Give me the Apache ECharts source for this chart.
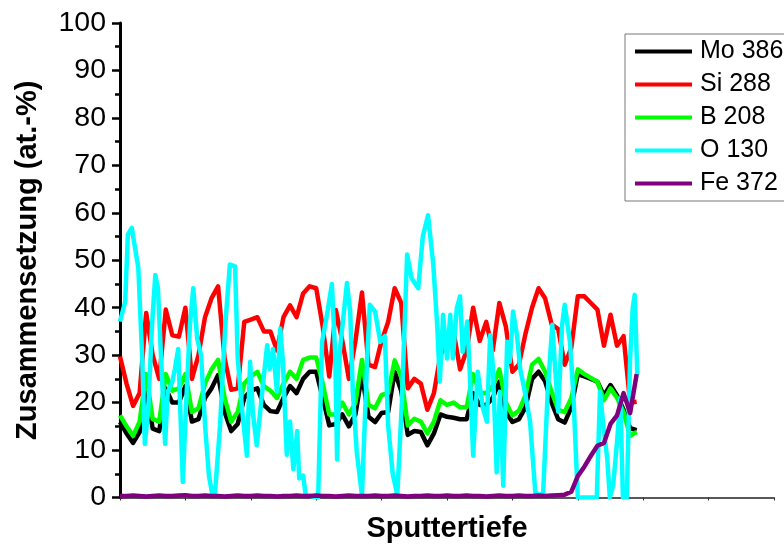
<!DOCTYPE html>
<html>
<head>
<meta charset="utf-8">
<script src="https://cdn.jsdelivr.net/npm/echarts@6/dist/echarts.min.js"></script>
<style>
  html, body { margin: 0; padding: 0; background: #fff; }
  #chart { width: 784px; height: 549px; }
</style>
</head>
<body>
<div id="chart"></div>
<script>
// Sputtertiefe (willkuerliche Einheit, Achse 0..10)
var depth = [0,0.1,0.2,0.3,0.4,0.5,0.6,0.7,0.8,0.9,
    1,1.1,1.2,1.3,1.4,1.5,1.6,1.7,1.8,1.9,
    2,2.1,2.2,2.3,2.4,2.5,2.6,2.7,2.8,2.9,
    3,3.1,3.2,3.3,3.4,3.5,3.6,3.7,3.8,3.9,
    4,4.1,4.2,4.3,4.4,4.5,4.6,4.7,4.8,4.9,
    5,5.1,5.2,5.3,5.4,5.5,5.6,5.7,5.8,5.9,
    6,6.1,6.2,6.3,6.4,6.5,6.6,6.7,6.8,6.9,
    7,7.1,7.2,7.3,7.4,7.5,7.6,7.7,7.8,7.9];

var mo386 = [15.9,13.5,11.5,13.8,23,14.5,14,23,20,20,
    23.5,16,16.5,21,23,25.8,18,14,15.5,21,
    22.5,23,19.5,18.2,18,21,23.5,22,25,26.5,
    26.5,21,15.2,15.5,17.5,15,17.5,26,17,15.9,
    17.8,18,26.5,22.5,13.2,14,13.8,11,13.5,17.5,
    17,16.8,16.5,16.5,22,19.5,19.5,21,24.4,18,
    15.9,16.5,19,25,26.5,24.5,20,16.5,15.8,19,
    26,25.5,25,24.4,21.5,23.7,21.5,18.5,14.6,14.2];

var si288 = [29.7,24,19.3,22,38.9,30,25,39.6,34.2,33.9,
    40,25,30,38,42,44.5,29.3,22.7,23,37,
    37.5,38,35,35,31,38,40.5,38,43,44.5,
    44.1,36,25.5,39.5,33,25,33,43.2,28,27.5,
    33,37,44.1,41,23,25,24,18.5,22,30,
    33,35,27,31,40,33,37,31,41,36,
    26.5,28,34.5,40,44.1,42,36.5,35.5,28,31.5,
    42.4,42.4,41,39.6,32,38.5,32,34,20,20.2];

var b208 = [17.3,15,13,16,26,16.5,16,26,22.5,23,
    26,18,18.8,24,27,29,21,16,18,24,
    25.5,26.5,23.5,22.5,21,24,26.5,25,29,29.5,
    29.5,24,17.5,17.5,20,17.5,20,29,19.5,18.8,
    21.6,22,28.9,25.5,15.2,16.6,16,13.5,16,20.5,
    19.5,20,19,19,26,22,22,23.5,27,20,
    17.3,18.3,21.5,28,29.2,26.5,22.3,18.5,18,20.9,
    27,26,25.2,24.4,20.5,23,21,18,13,13.8];

// O 130 schwankt stark, daher eigene, dichtere Tiefenpunkte
var oDepth = [0,0.08,0.12,0.18,0.23,0.28,0.34,0.38,0.43,0.49,
    0.54,0.58,0.64,0.69,0.73,0.80,0.84,0.89,0.96,1.02,
    1.07,1.12,1.18,1.24,1.30,1.36,1.41,1.45,1.53,1.61,
    1.68,1.76,1.80,1.87,1.94,1.99,2.03,2.09,2.14,2.19,
    2.25,2.29,2.34,2.40,2.45,2.49,2.55,2.60,2.65,2.71,
    2.74,2.80,2.84,3.03,3.09,3.17,3.24,3.29,3.32,3.36,
    3.47,3.52,3.56,3.62,3.70,3.78,3.82,3.90,3.98,4.05,
    4.10,4.17,4.24,4.31,4.39,4.46,4.56,4.63,4.71,4.79,
    4.85,4.89,4.94,5.00,5.05,5.09,5.15,5.20,5.24,5.31,
    5.35,5.40,5.47,5.55,5.61,5.66,5.70,5.76,5.81,5.86,
    5.92,5.96,6.01,6.07,6.12,6.19,6.27,6.35,6.42,6.47,
    6.54,6.61,6.65,6.70,6.76,6.80,6.88,6.93,7.00,7.29,
    7.34,7.39,7.45,7.49,7.54,7.60,7.65,7.69,7.75,7.80,
    7.84,7.87,7.91];

var o130 = [37.1,41.3,55.4,56.8,52.6,48.4,29.3,11.3,18.1,36.4,
    46.9,44.1,25.8,11.3,22.3,24.4,27.1,31.3,3.3,22.3,
    36.4,44.1,33.5,30,15.3,4.6,0.7,0.4,15.2,36.4,
    49.1,48.7,29.3,18.1,8.8,28.6,18.1,11,17.5,24.4,
    32.1,27.1,31.3,22.3,35.6,29,9,16,6,14,
    4,4.6,0.5,0,32.8,38.9,45,30.4,8,30.7,
    45.2,39.2,22.3,9.6,0.5,29.3,40.6,39.2,32.8,34,
    15.2,5,0.5,20,51.2,46.2,44.1,55,59.5,49.1,
    36.4,24.4,38.5,29.3,38.5,29.3,39.9,42.4,30.7,37.1,
    25.8,8.8,26.5,18.8,16,34.2,27.9,5.3,22.3,2.5,
    32.8,28.6,39.2,34.2,27.1,22.3,16,1.1,0.5,1,
    22.3,36.4,27.9,18.1,36.4,40.6,32.8,22.3,0,0,
    22.3,15.2,8.2,0,2.5,11.7,20.9,0,0,29.3,
    39.9,42.7,25.8];

var fe372 = [0.3,0.3,0.4,0.3,0.2,0.3,0.4,0.3,0.3,0.4,
    0.5,0.3,0.3,0.4,0.3,0.3,0.2,0.3,0.4,0.3,
    0.3,0.4,0.3,0.3,0.2,0.3,0.3,0.4,0.3,0.3,
    0.4,0.3,0.3,0.2,0.3,0.4,0.3,0.3,0.3,0.4,
    0.3,0.3,0.4,0.3,0.2,0.3,0.3,0.4,0.3,0.3,
    0.4,0.3,0.3,0.4,0.3,0.3,0.2,0.3,0.4,0.3,
    0.3,0.4,0.3,0.3,0.4,0.3,0.4,0.5,0.6,1.2,
    4.5,6.5,8.8,10.9,11.5,15.5,17.3,22,17.8,26];

var yTicks = [0,10,20,30,40,50,60,70,80,90,100];

function pairs(xs, vals) {
    return vals.map(function (v, i) { return [xs[i], v]; });
}

var font = 'Liberation Sans, Arial, sans-serif';
var chart = echarts.init(document.getElementById('chart'), null, { renderer: 'canvas' });

var seriesDef = [
    { name: 'Mo 386', x: depth,  data: mo386, color: '#000000' },
    { name: 'Si 288', x: depth,  data: si288, color: '#ff0000' },
    { name: 'B 208',  x: depth,  data: b208,  color: '#00ff00' },
    { name: 'O 130',  x: oDepth, data: o130,  color: '#00ffff' },
    { name: 'Fe 372', x: depth,  data: fe372, color: '#800080' }
];

chart.setOption({
    animation: false,
    backgroundColor: '#ffffff',
    grid: { left: 120, right: 10, top: 23, bottom: 51.5 },
    legend: {
        orient: 'vertical',
        left: 625,
        top: 34,
        padding: [5, 10, 5, 10],
        itemGap: 8,
        itemWidth: 57,
        itemHeight: 4,
        icon: 'rect',
        borderColor: '#777',
        borderWidth: 1,
        itemStyle: { borderWidth: 0 },
        textStyle: { fontFamily: font, fontSize: 25, color: '#000', padding: [0, 0, 0, 3] },
        data: seriesDef.map(function (s) { return s.name; })
    },
    xAxis: {
        type: 'value',
        min: 0,
        max: 10,
        interval: 1,
        name: 'Sputtertiefe',
        nameLocation: 'middle',
        nameGap: 17,
        nameTextStyle: { fontFamily: font, fontSize: 29, fontWeight: 'bold', color: '#000' },
        axisLine: { show: true, lineStyle: { color: '#222', width: 1.5 } },
        axisTick: { show: true, length: 3, lineStyle: { color: '#333', width: 1 } },
        axisLabel: { show: false },
        splitLine: { show: false }
    },
    yAxis: {
        type: 'value',
        min: yTicks[0],
        max: yTicks[yTicks.length - 1],
        interval: 10,
        name: 'Zusammensetzung (at.-%)',
        nameLocation: 'middle',
        nameGap: 78,
        nameTextStyle: { fontFamily: font, fontSize: 29, fontWeight: 'bold', color: '#000' },
        axisLine: { show: true, lineStyle: { color: '#000', width: 3 } },
        axisTick: { show: true, length: 8, lineStyle: { color: '#000', width: 2.5 } },
        minorTick: { show: true, splitNumber: 2, length: 5, lineStyle: { color: '#000', width: 2.5 } },
        axisLabel: { fontFamily: font, fontSize: 28.5, color: '#000', margin: 14 },
        splitLine: { show: false }
    },
    series: seriesDef.map(function (s) {
        return {
            name: s.name,
            type: 'line',
            data: pairs(s.x, s.data),
            showSymbol: false,
            symbol: 'none',
            color: s.color,
            lineStyle: { color: s.color, width: 4.5, join: 'round' }
        };
    })
});
</script>
</body>
</html>
